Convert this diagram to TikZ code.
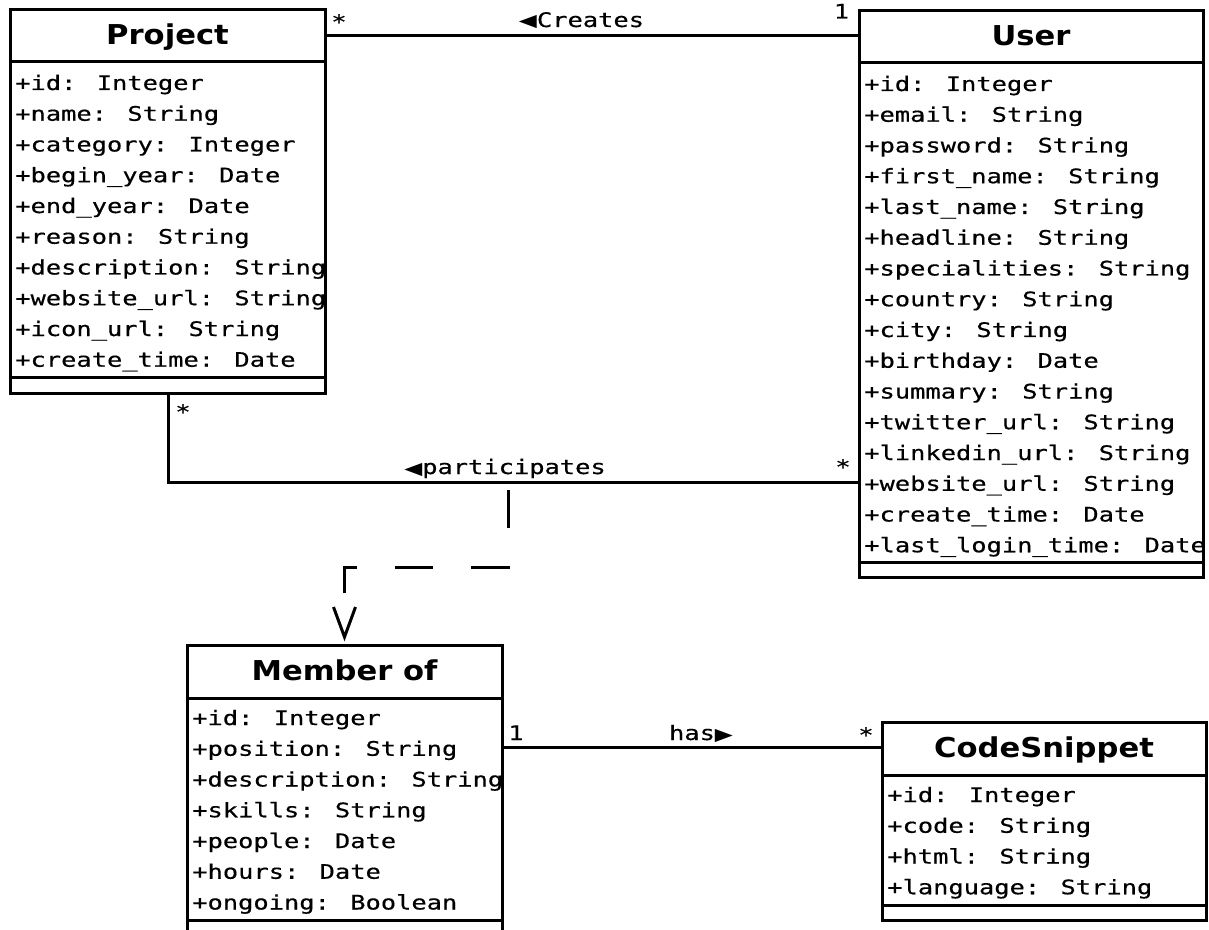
\documentclass[tikz,border=0pt]{standalone}
\usepackage{fontspec}
\newfontfamily\attrfont[FakeStretch=1.27,FakeBold=0.5]{DejaVu Sans Mono}
\newfontfamily\titlefont[FakeStretch=1.12]{DejaVu Sans}
\newfontfamily\trifont[FakeStretch=1.35]{DejaVu Sans}
\newcommand{\tri}[1]{{\trifont\fontsize{13pt}{16pt}\selectfont #1}}
\begin{document}
\begin{tikzpicture}[x=0.75pt,y=-0.75pt,
  box/.style={draw, rectangle, line width=2.25pt, anchor=north west, inner sep=0pt, outer sep=0pt},
  sepline/.style={line width=2.25pt},
  ttl/.style={font={\titlefont\bfseries\fontsize{20.5pt}{24pt}\selectfont}, anchor=base, inner sep=0pt},
  attr/.style={font={\attrfont\fontsize{15pt}{18pt}\selectfont}, anchor=base west, inner sep=0pt},
  lbl/.style={font={\attrfont\fontsize{15pt}{18pt}\selectfont}, anchor=base, inner sep=0pt},
  conn/.style={line width=2.25pt},
  dconn/.style={line width=2.25pt, dash pattern=on 28.5pt off 28.5pt, dash phase=51pt},
]
\useasboundingbox (0,0) rectangle (1209,930);
\clip (0,0) rectangle (1209,930);
\fill[white] (0,0) rectangle (1209,930);

% class boxes
\node[box, minimum width=236.25pt, minimum height=287.25pt] (project) at (10,10) {};
\node[box, minimum width=258pt, minimum height=424.5pt] (user) at (859,11) {};
\node[box, minimum width=236.25pt, minimum height=218.25pt] (member) at (187,645) {};
\node[box, minimum width=243pt, minimum height=148.5pt] (code) at (882,722) {};

% compartments
\draw[sepline] (project.west |- 0,62) -- (project.east |- 0,62);
\draw[sepline] (project.west |- 0,377) -- (project.east |- 0,377);
\draw[sepline] (user.west |- 0,63) -- (user.east |- 0,63);
\draw[sepline] (user.west |- 0,562) -- (user.east |- 0,562);
\draw[sepline] (member.west |- 0,698) -- (member.east |- 0,698);
\draw[sepline] (member.west |- 0,920) -- (member.east |- 0,920);
\draw[sepline] (code.west |- 0,775) -- (code.east |- 0,775);
\draw[sepline] (code.west |- 0,905) -- (code.east |- 0,905);

% titles
\node[ttl] (project-title) at (project.north |- 0,45) {Project};
\node[ttl] (user-title) at (user.north |- 0,46) {User};
\node[ttl] (member-title) at (member.north |- 0,680) {Member of};
\node[ttl] (code-title) at (code.north |- 0,757) {CodeSnippet};

% attributes
\foreach \t [count=\i from 0] in {{+id: Integer},{+name: String},{+category: Integer},{+begin\_year: Date},{+end\_year: Date},{+reason: String},{+description: String},{+website\_url: String},{+icon\_url: String},{+create\_time: Date}}
  \node[attr] (pa\i) at (15,{90+30.75*\i}) {\t};
\foreach \t [count=\i from 0] in {{+id: Integer},{+email: String},{+password: String},{+first\_name: String},{+last\_name: String},{+headline: String},{+specialities: String},{+country: String},{+city: String},{+birthday: Date},{+summary: String},{+twitter\_url: String},{+linkedin\_url: String},{+website\_url: String},{+create\_time: Date},{+last\_login\_time: Date}}
  \node[attr] (ua\i) at (864,{91+30.75*\i}) {\t};
\foreach \t [count=\i from 0] in {{+id: Integer},{+position: String},{+description: String},{+skills: String},{+people: Date},{+hours: Date},{+ongoing: Boolean}}
  \node[attr] (ma\i) at (192,{725+30.75*\i}) {\t};
\foreach \t [count=\i from 0] in {{+id: Integer},{+code: String},{+html: String},{+language: String}}
  \node[attr] (ca\i) at (887,{802+30.75*\i}) {\t};

% connectors
\coordinate (createsy) at (590,36);
\draw[conn] (project.east |- createsy) -- (user.west |- createsy);
\coordinate (pbend) at (168,482);
\draw[conn] (project.south -| pbend) -- (pbend) -- (user.west |- pbend);
\coordinate (hasy) at (690,747);
\draw[conn] (member.east |- hasy) -- (code.west |- hasy);

% association class link
\coordinate (assoc) at (508,482);
\coordinate (vend) at (member.north |- 0,600);
\coordinate (vtop) at (member.north |- 0,607);
\coordinate (vtip) at (member.north |- 0,637);
\draw[dconn] (assoc) |- (member.north |- 0,567) -- (vend);
\draw[conn, line join=miter] ([xshift=-8.25pt]vtop) -- (vtip) -- ([xshift=8.25pt]vtop);

% labels
\node[lbl] (l-star1) at (339,29) {*};
\node[lbl] (l-one1) at (841.5,18.5) {1};
\node[lbl] (l-creates) at (581.5,27) {\tri{◀}Creates};
\node[lbl] (l-star2) at (183,419) {*};
\node[lbl] (l-star3) at (843,474) {*};
\node[lbl] (l-part) at (505,474) {\tri{◀}participates};
\node[lbl] (l-one2) at (516,740) {1};
\node[lbl] (l-has) at (701,740) {has\tri{▶}};
\node[lbl] (l-star4) at (866,742) {*};
\end{tikzpicture}
\end{document}
